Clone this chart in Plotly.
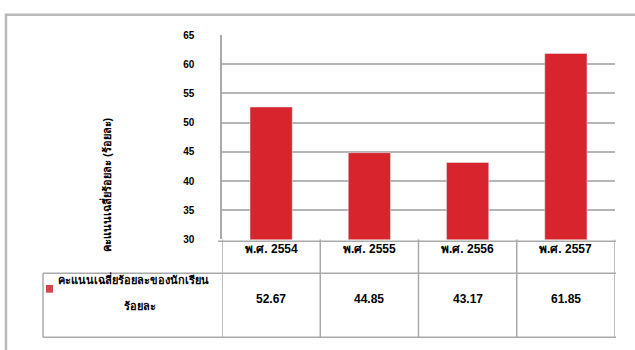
import plotly.graph_objects as go

W, H = 635, 350

categories = ["พ.ศ. 2554", "พ.ศ. 2555", "พ.ศ. 2556", "พ.ศ. 2557"]
values = [52.67, 44.85, 43.17, 61.85]
value_labels = ["52.67", "44.85", "43.17", "61.85"]
tick_vals = [30, 35, 40, 45, 50, 55, 60, 65]
series_line1 = "คะแนนเฉลี่ยร้อยละของนักเรียน"
series_line2 = "ร้อยละ"
y_title = "คะแนนเฉลี่ยร้อยละ (ร้อยละ)"

BAR = "#d7242d"
GRID = "#b5b5b5"
LINE = "#a9a9a9"
FONT = "Liberation Sans, Noto Sans, DejaVu Sans, sans-serif"

def px(x):
    return x / W

def py(y):
    return 1 - y / H

fig = go.Figure()
fig.add_trace(go.Bar(x=categories, y=values, marker_color=BAR, width=0.43,
                     showlegend=False, hoverinfo="skip"))

fig.update_layout(
    width=W, height=H,
    margin=dict(l=0, r=0, t=0, b=0),
    paper_bgcolor="white", plot_bgcolor="white",
    font=dict(family=FONT, color="black"),
    xaxis=dict(domain=[px(222), px(615)], showticklabels=False, showgrid=False,
               zeroline=False, showline=False, range=[-0.5, 3.5]),
    yaxis=dict(domain=[py(242), py(31)], range=[30, 65], tickvals=tick_vals,
               showgrid=True, gridcolor=GRID, gridwidth=1.5, zeroline=False,
               showline=True, linecolor=LINE, linewidth=1.5,
               tickfont=dict(size=10, family=FONT, weight="bold"),
               ticklabelstandoff=24),
)

shapes = []
# outer chart frame
shapes.append(dict(type="rect", xref="paper", yref="paper",
                   x0=px(6), x1=px(640), y0=py(360), y1=py(10),
                   line=dict(color="#b9b9b9", width=2.5)))
# table horizontal lines
shapes.append(dict(type="line", xref="paper", yref="paper",
                   x0=px(218), x1=px(616), y0=py(244), y1=py(244),
                   line=dict(color=LINE, width=1.5)))
shapes.append(dict(type="line", xref="paper", yref="paper",
                   x0=px(43), x1=px(616), y0=py(277), y1=py(277),
                   line=dict(color=LINE, width=1.5)))
shapes.append(dict(type="line", xref="paper", yref="paper",
                   x0=px(43), x1=px(616), y0=py(343), y1=py(343),
                   line=dict(color=LINE, width=1.5)))
shapes.append(dict(type="line", xref="paper", yref="paper",
                   x0=px(43), x1=px(43), y0=py(277), y1=py(343),
                   line=dict(color=LINE, width=1.5)))
# vertical table lines at category boundaries
for i in range(len(categories) + 1):
    shapes.append(dict(type="line", xref="x", yref="paper",
                       x0=i - 0.5, x1=i - 0.5, y0=py(343), y1=py(242),
                       line=dict(color=LINE, width=1.5)))
# legend key
shapes.append(dict(type="rect", xref="paper", yref="paper",
                   x0=px(46), x1=px(53), y0=py(297), y1=py(289),
                   fillcolor="#d0484c", line=dict(width=0)))

annotations = []
for c, v in zip(categories, value_labels):
    annotations.append(dict(x=c, y=py(261), xref="x", yref="paper", text=c,
                            showarrow=False, font=dict(size=12, weight="bold")))
    annotations.append(dict(x=c, y=py(313), xref="x", yref="paper", text=v,
                            showarrow=False, font=dict(size=12, weight="bold")))
annotations.append(dict(x=px(56), y=py(292), xref="paper", yref="paper",
                        text=series_line1, showarrow=False, xanchor="left",
                        font=dict(size=11, weight="bold")))
annotations.append(dict(x=px(122), y=py(319), xref="paper", yref="paper",
                        text=series_line2, showarrow=False,
                        font=dict(size=11, weight="bold")))
annotations.append(dict(x=px(97), y=py(186), xref="paper", yref="paper",
                        text=y_title, textangle=-90, showarrow=False,
                        font=dict(size=11, weight="bold")))

fig.update_layout(shapes=shapes, annotations=annotations)
fig.write_html("out.html", config={"displayModeBar": False},
               post_script="document.body.style.margin='0px';document.body.style.overflow='hidden';")
